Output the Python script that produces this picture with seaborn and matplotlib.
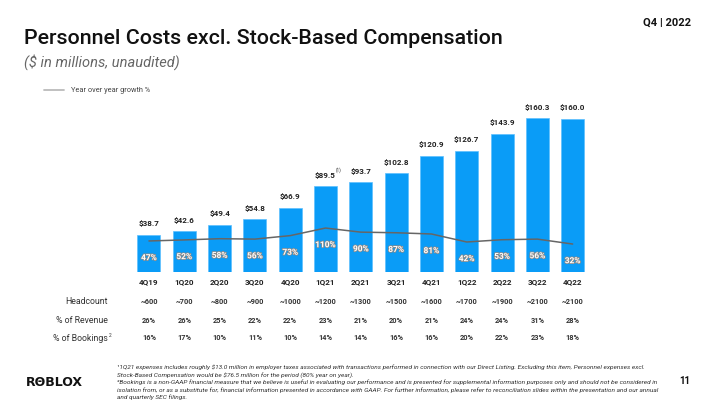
import matplotlib
matplotlib.use("Agg")
import matplotlib.pyplot as plt
import matplotlib.patheffects as pe
import matplotlib.transforms as mtransforms
import seaborn as sns
import pandas as pd
import numpy as np

quarters = ["4Q19", "1Q20", "2Q20", "3Q20", "4Q20", "1Q21", "2Q21", "3Q21",
            "4Q21", "1Q22", "2Q22", "3Q22", "4Q22"]
costs = [38.7, 42.6, 49.4, 54.8, 66.9, 89.5, 93.7, 102.8, 120.9, 126.7, 143.9, 160.3, 160.0]
growth = [47, 52, 58, 56, 73, 110, 90, 87, 81, 42, 53, 56, 32]
headcount = ["~600", "~700", "~800", "~900", "~1000", "~1200", "~1300", "~1500",
             "~1600", "~1700", "~1900", "~2100", "~2100"]
pct_revenue = [26, 26, 25, 22, 22, 23, 21, 20, 21, 24, 24, 31, 28]
pct_bookings = [16, 17, 10, 11, 10, 14, 14, 16, 16, 20, 22, 23, 18]

sns.set_theme(style="white")
plt.rcParams["font.family"] = ["Roboto", "DejaVu Sans"]

W, H = 720, 405
fig = plt.figure(figsize=(7.2, 4.05), dpi=100)

def fx(px):
    return px / W

def fy(py):
    return 1 - py / H

left_px, right_px, top_px, bot_px = 131.3, 590.3, 104.2, 272
ax = fig.add_axes([fx(left_px), fy(bot_px), fx(right_px - left_px), (bot_px - top_px) / H])

df = pd.DataFrame({"quarter": quarters, "cost": costs, "growth": growth,
                   "pos": np.arange(len(quarters))})
blue = "#0A9CF7"
sns.barplot(data=df, x="quarter", y="cost", color=blue, saturation=1, width=0.65,
            ax=ax, edgecolor="#5CC0FF", linewidth=0.5)
ax.set_xlim(-0.5, len(quarters) - 0.5)
ax.set_ylim(0, 175)
ax.set_xlabel("")
ax.set_ylabel("")
ax.set_yticks([])
ax.tick_params(axis="x", length=0, pad=4.2, labelsize=5.8, labelcolor="#222222")
for lab in ax.get_xticklabels():
    lab.set_fontweight("bold")
for s in ax.spines.values():
    s.set_visible(False)

for i, v in enumerate(costs):
    ax.annotate("\\$%.1f" % v, (i, v), xytext=(0, 5.5), textcoords="offset points",
                ha="center", va="bottom", fontsize=5.8, fontweight="bold", color="#222222")
# footnote marker on 1Q21
i21 = quarters.index("1Q21")
ax.annotate("(1)", (i21, costs[i21]), xytext=(7.3, 9.3), textcoords="offset points",
            ha="left", va="bottom", fontsize=3.3, color="#222222")

ax2 = ax.twinx()
sns.lineplot(data=df, x="pos", y="growth", ax=ax2, color="#666666", linewidth=1.1, sort=False)
ax2.set_ylim(-104.4, 714)
ax2.set_yticks([])
ax2.set_ylabel("")
ax2.set_xlabel("")
for s in ax2.spines.values():
    s.set_visible(False)
for i, g in enumerate(growth):
    ax2.annotate("%d%%" % g, (i, g), xytext=(0, -12), textcoords="offset points",
                 ha="center", va="center", fontsize=6, fontweight="bold", color="white",
                 path_effects=[pe.withStroke(linewidth=1.1, foreground="#8A8A8A")])

# table rows
trans = mtransforms.blended_transform_factory(ax.transData, fig.transFigure)
rows = [("Headcount", headcount, 302),
        ("% of Revenue", ["%d%%" % v for v in pct_revenue], 320.7),
        ("% of Bookings", ["%d%%" % v for v in pct_bookings], 338.3)]
for name, vals, ypx in rows:
    fig.text(fx(108), fy(ypx), name, ha="right", va="center", fontsize=6.3, color="#333333")
    for i, v in enumerate(vals):
        ax.text(i, fy(ypx), v, transform=trans, ha="center", va="center",
                fontsize=5.3, fontweight="bold", color="#333333")
fig.text(fx(108.5), fy(335.5), "2", ha="left", va="center", fontsize=3.5, color="#333333")

# titles
fig.text(fx(24), fy(38), "Personnel Costs excl. Stock-Based Compensation", ha="left",
         va="center", fontsize=15.4, fontweight="medium", color="#111111")
fig.text(fx(24), fy(62), "($ in millions, unaudited)", ha="left", va="center",
         fontsize=10.5, style="italic", color="#666666")
fig.text(fx(691), fy(23), "Q4 | 2022", ha="right", va="center", fontsize=8,
         fontweight="bold", color="#111111")

# legend
fig.add_artist(plt.Line2D([fx(44), fx(64)], [fy(90), fy(90)], color="#BBBBBB", linewidth=1.3))
fig.text(fx(71), fy(90), "Year over year growth %", ha="left", va="center",
         fontsize=5.3, color="#444444")

# footer
fig.text(fx(26), fy(382), "RΘBLOX", ha="left", va="center", fontsize=9,
         fontweight="bold", color="#111111", family="DejaVu Sans")
fig.text(fx(690), fy(381), "11", ha="right", va="center", fontsize=7,
         fontweight="bold", color="#111111")
foot = ["¹1Q21 expenses includes roughly $13.0 million in employer taxes associated with transactions performed in connection with our Direct Listing. Excluding this item, Personnel expenses excl.",
        "Stock-Based Compensation would be $76.5 million for the period (80% year on year).",
        "²Bookings is a non-GAAP financial measure that we believe is useful in evaluating our performance and is presented for supplemental information purposes only and should not be considered in",
        "isolation from, or as a substitute for, financial information presented in accordance with GAAP. For further information, please refer to reconciliation slides within the presentation and our annual",
        "and quarterly SEC filings."]
for k, line in enumerate(foot):
    fig.text(fx(117), fy(367 + k * 7.6), line.replace("$", "\\$"), ha="left", va="center",
             fontsize=4.65, style="italic", color="#333333")

fig.savefig("out.png", dpi=100)
